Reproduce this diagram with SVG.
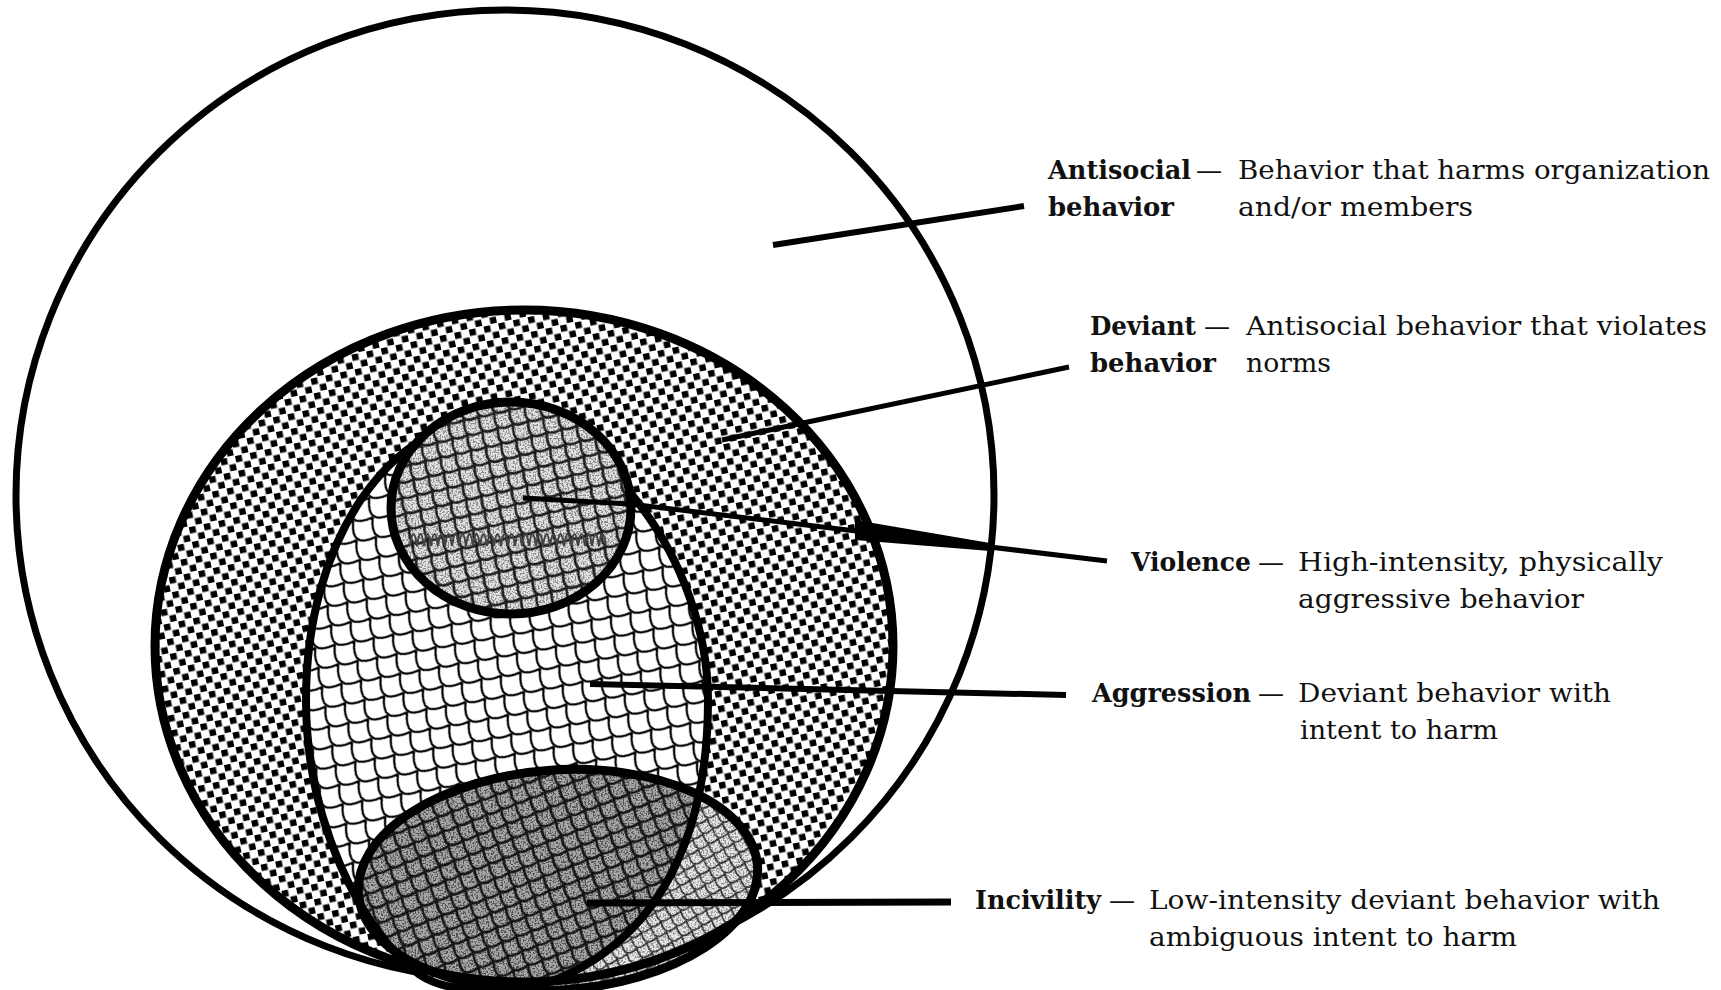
<svg xmlns="http://www.w3.org/2000/svg" width="1721" height="990" viewBox="0 0 1721 990">
<style>
.ol{fill:none;stroke:#000;stroke-linejoin:round}
.con{stroke:#000;stroke-linecap:butt;fill:none}
.t{font-family:"DejaVu Serif","Liberation Serif",serif;font-size:26px;fill:#111}
.b{font-weight:bold}
</style>
<defs>
  <pattern id="dots" width="15" height="15" patternUnits="userSpaceOnUse" patternTransform="rotate(-12)">
    <rect width="15" height="15" fill="#fff"/>
    <rect x="0" y="0" width="6.5" height="6.5" fill="#000"/>
    <rect x="7.5" y="7.5" width="6.5" height="6.5" fill="#000"/>
  </pattern>
  <pattern id="scales" width="28" height="28" patternUnits="userSpaceOnUse" patternTransform="rotate(35)">
    <rect x="-1" y="-1" width="30" height="30" fill="#fff"/>
    <path d="M0 0 Q14 25 28 0 M-14 14 Q0 39 14 14 M14 14 Q28 39 42 14 M-14 -14 Q0 11 14 -14 M14 -14 Q28 11 42 -14 M0 28 Q14 53 28 28" fill="none" stroke="#000" stroke-width="2.3"/>
  </pattern>
  <pattern id="scalesG" width="22" height="22" patternUnits="userSpaceOnUse" patternTransform="rotate(32)">
    <rect x="-1" y="-1" width="24" height="24" fill="#e2e2e2"/>
    <path d="M0 0 Q11 20 22 0 M-11 11 Q0 31 11 11 M11 11 Q22 31 33 11 M-11 -11 Q0 9 11 -11 M11 -11 Q22 9 33 -11 M0 22 Q11 42 22 22" fill="none" stroke="#222" stroke-width="2.6"/>
  </pattern>
  <pattern id="scalesD" width="22" height="22" patternUnits="userSpaceOnUse" patternTransform="rotate(28)">
    <rect x="-1" y="-1" width="24" height="24" fill="#a8a8a8"/>
    <path d="M0 0 Q11 20 22 0 M-11 11 Q0 31 11 11 M11 11 Q22 31 33 11 M-11 -11 Q0 9 11 -11 M11 -11 Q22 9 33 -11 M0 22 Q11 42 22 22" fill="none" stroke="#1a1a1a" stroke-width="2.6"/>
  </pattern>
  <pattern id="net" width="16" height="16" patternUnits="userSpaceOnUse" patternTransform="rotate(20)">
    <rect x="-1" y="-1" width="18" height="18" fill="#e8e8e8"/>
    <path d="M0 0 Q8 14 16 0 M-8 8 Q0 22 8 8 M8 8 Q16 22 24 8 M-8 -8 Q0 6 8 -8 M8 -8 Q16 6 24 -8 M0 16 Q8 30 16 16" fill="none" stroke="#333" stroke-width="1.6"/>
  </pattern>
  <filter id="stip" x="0" y="0" width="1" height="1">
    <feTurbulence type="fractalNoise" baseFrequency="0.6" numOctaves="1" seed="4"/>
    <feColorMatrix type="matrix" values="0 0 0 0 0  0 0 0 0 0  0 0 0 0 0  9 0 0 0 -4.4"/>
    <feComposite in2="SourceAlpha" operator="in"/>
  </filter>
  <path id="egg" d="M497 418 C600 418 708 560 708 700 C708 820 670 930 560 978 C520 995 450 995 420 975 C360 930 306 820 306 700 C306 540 390 418 497 418 Z"/>
  <ellipse id="inc" cx="558" cy="880" rx="200" ry="110" transform="rotate(-4 558 880)"/>
  <ellipse id="vio" cx="511" cy="508" rx="120" ry="106"/>
  <clipPath id="eggClip">
    <path d="M497 418 C600 418 708 560 708 700 C708 820 670 930 560 978 C520 995 450 995 420 975 C360 930 306 820 306 700 C306 540 390 418 497 418 Z"/>
  </clipPath>
</defs>

<g id="antisocial">
  <ellipse cx="505" cy="495" rx="489" ry="485" fill="#fff" stroke="#000" stroke-width="7"/>
</g>

<g id="deviant">
  <ellipse cx="524" cy="646" rx="369" ry="336" fill="url(#dots)"/>
</g>

<g id="aggression">
  <use href="#egg" fill="url(#scales)"/>
</g>

<g id="incivility">
  <use href="#inc" fill="url(#net)"/>
  <use href="#inc" fill="#000" opacity="0.35" filter="url(#stip)"/>
  <g clip-path="url(#eggClip)">
    <use href="#inc" fill="url(#scalesD)"/>
    <use href="#inc" fill="#000" opacity="0.5" filter="url(#stip)"/>
  </g>
</g>

<g id="aggression-outline">
  <use href="#egg" class="ol" stroke-width="8"/>
</g>

<g id="violence">
  <use href="#vio" fill="url(#scalesG)"/>
  <use href="#vio" fill="#000" opacity="0.38" filter="url(#stip)"/>
  <path d="M410 546 q3.5 -24 7 0 q3.5 -24 7 0 q3.5 -24 7 0 q3.5 -24 7 0 q3.5 -24 7 0 q3.5 -24 7 0 q3.5 -24 7 0 q3.5 -24 7 0 q3.5 -24 7 0 q3.5 -24 7 0 q3.5 -24 7 0 q3.5 -24 7 0 q3.5 -24 7 0 q3.5 -24 7 0 q3.5 -24 7 0 q3.5 -24 7 0 q3.5 -24 7 0 q3.5 -24 7 0 q3.5 -24 7 0 q3.5 -24 7 0 q3.5 -24 7 0 q3.5 -24 7 0 q3.5 -24 7 0 q3.5 -24 7 0 q3.5 -24 7 0 q3.5 -24 7 0 q3.5 -24 7 0 q3.5 -24 7 0" fill="none" stroke="#444" stroke-width="2.2"/>
  <use href="#vio" class="ol" stroke-width="9"/>
</g>

<g id="outlines">
  <ellipse cx="524" cy="646" rx="369" ry="336" class="ol" stroke-width="9"/>
  <use href="#inc" class="ol" stroke-width="9"/>
</g>

<g id="connectors">
  <line x1="773" y1="245" x2="1024" y2="206" class="con" stroke-width="6"/>
  <line x1="722" y1="440" x2="1069" y2="367" class="con" stroke-width="5"/>
  <polyline points="523,498 630,504 1107,561" class="con" stroke-width="5"/>
  <polygon points="855,520 990,543 990,551 855,540" fill="#000"/>
  <line x1="590" y1="684" x2="1066" y2="695" class="con" stroke-width="6"/>
  <line x1="587" y1="903" x2="951" y2="902" class="con" stroke-width="7"/>
</g>

<g id="labels">
  <text class="t b" x="1048" y="179" textLength="143" lengthAdjust="spacingAndGlyphs">Antisocial</text>
  <text class="t" x="1196" y="179">—</text>
  <text class="t" x="1238" y="179" textLength="472" lengthAdjust="spacingAndGlyphs">Behavior that harms organization</text>
  <text class="t b" x="1048" y="216" textLength="126" lengthAdjust="spacingAndGlyphs">behavior</text>
  <text class="t" x="1238" y="216" textLength="235" lengthAdjust="spacingAndGlyphs">and/or members</text>

  <text class="t b" x="1090" y="335" textLength="106" lengthAdjust="spacingAndGlyphs">Deviant</text>
  <text class="t" x="1204" y="335">—</text>
  <text class="t" x="1246" y="335" textLength="461" lengthAdjust="spacingAndGlyphs">Antisocial behavior that violates</text>
  <text class="t b" x="1090" y="372" textLength="126" lengthAdjust="spacingAndGlyphs">behavior</text>
  <text class="t" x="1246" y="372" textLength="85" lengthAdjust="spacingAndGlyphs">norms</text>

  <text class="t b" x="1131" y="571" textLength="120" lengthAdjust="spacingAndGlyphs">Violence</text>
  <text class="t" x="1258" y="571">—</text>
  <text class="t" x="1298" y="571" textLength="365" lengthAdjust="spacingAndGlyphs">High-intensity, physically</text>
  <text class="t" x="1298" y="608" textLength="286" lengthAdjust="spacingAndGlyphs">aggressive behavior</text>

  <text class="t b" x="1092" y="702" textLength="159" lengthAdjust="spacingAndGlyphs">Aggression</text>
  <text class="t" x="1258" y="702">—</text>
  <text class="t" x="1298" y="702" textLength="313" lengthAdjust="spacingAndGlyphs">Deviant behavior with</text>
  <text class="t" x="1300" y="739" textLength="198" lengthAdjust="spacingAndGlyphs">intent to harm</text>

  <text class="t b" x="975" y="909" textLength="126" lengthAdjust="spacingAndGlyphs">Incivility</text>
  <text class="t" x="1109" y="909">—</text>
  <text class="t" x="1149" y="909" textLength="511" lengthAdjust="spacingAndGlyphs">Low-intensity deviant behavior with</text>
  <text class="t" x="1149" y="946" textLength="368" lengthAdjust="spacingAndGlyphs">ambiguous intent to harm</text>
</g>
</svg>
